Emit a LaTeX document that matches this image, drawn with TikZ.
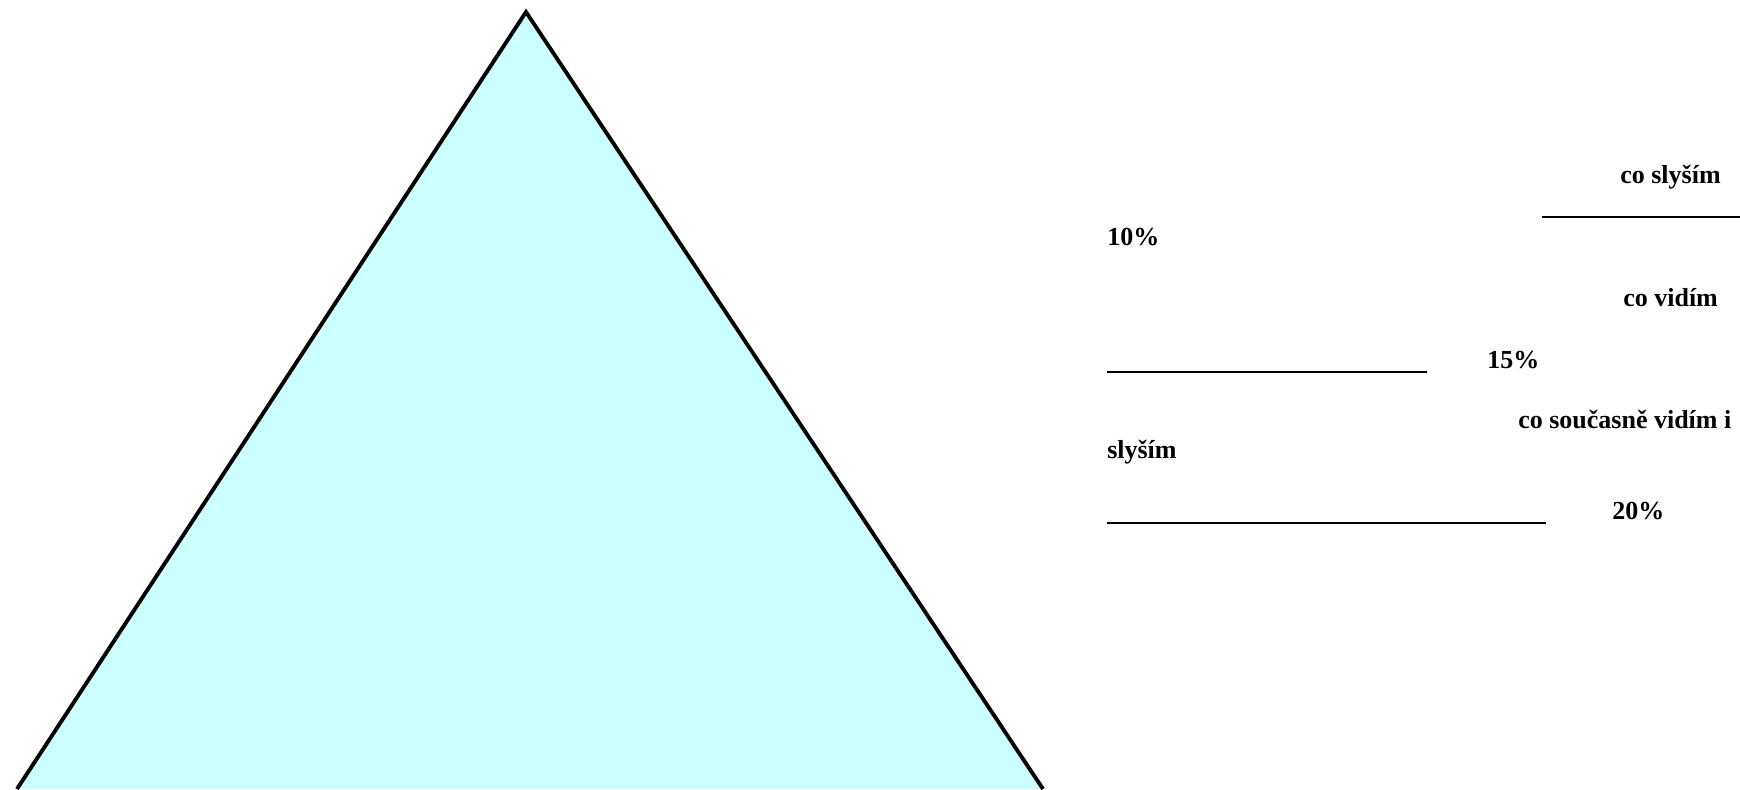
\documentclass[tikz,border=0pt]{standalone}
\usepackage{fontspec}
\setmainfont{Liberation Serif}
\usetikzlibrary{positioning}

\begin{document}
\begin{tikzpicture}[x=0.75pt,y=0.75pt,
  lbl/.style={anchor=base west,inner sep=0,font=\fontsize{19.5}{23}\selectfont\bfseries},
  rulebar/.style={line width=1.6pt}]
\useasboundingbox (0,0) rectangle (1740,789);
\begin{scope}
\clip (0,0) rectangle (1740,789);
\draw[line width=2.9pt,fill={rgb,255:red,204;green,255;blue,255},line join=miter]
  (17,0) -- (526,777) -- (1043,0);
\end{scope}
% texts
\node[lbl] (hear) at (1620,605) {co slyším};
\draw[rulebar] (1542,572) -- (1740,572);
\node[lbl] (p10) at (1107,543) {10\%};
\node[lbl] (see) at (1623,482) {co vidím};
\draw[rulebar] (1107,417) -- (1427,417);
\node[lbl] (p15) at (1487,420) {15\%};
\node[lbl] (both) at (1518,360) {co současně vidím i};
\node[lbl] (both2) at (1107,330) {slyším};
\draw[rulebar] (1107,266) -- (1546,266);
\node[lbl] (p20) at (1612,269) {20\%};
\end{tikzpicture}
\end{document}
